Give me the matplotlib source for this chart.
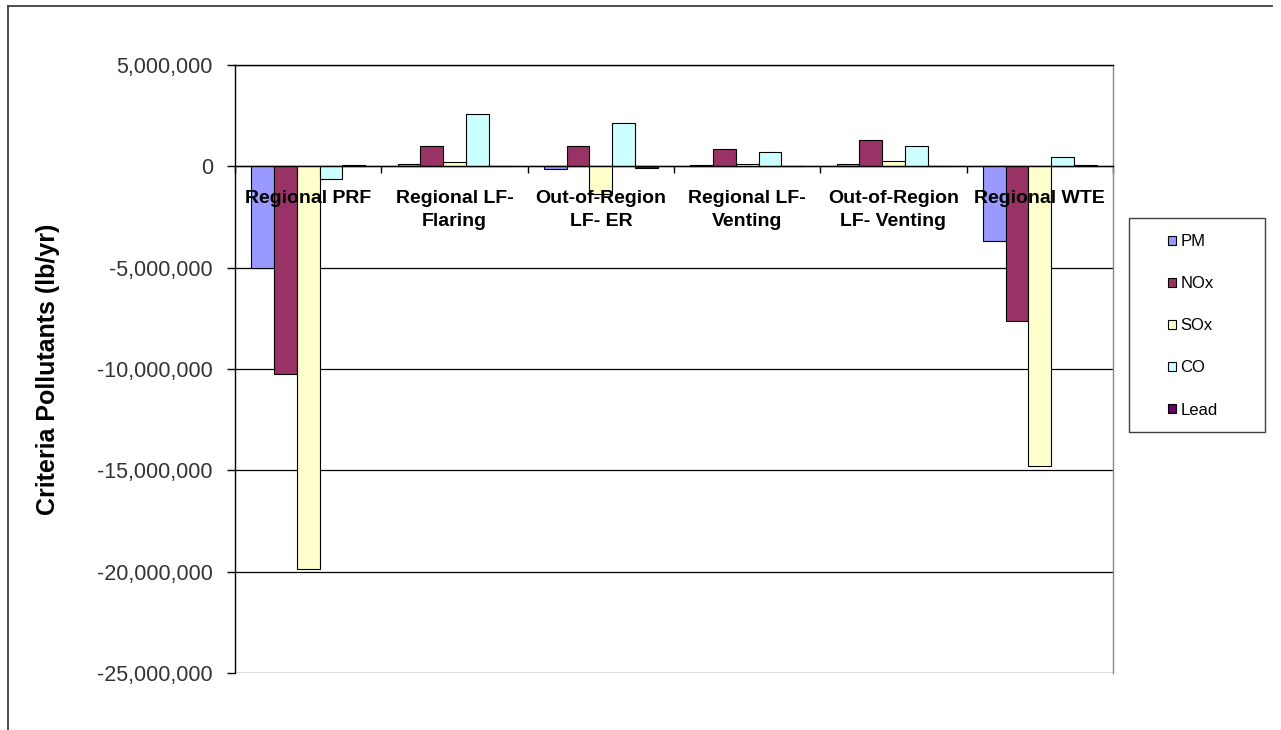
import matplotlib
matplotlib.use('Agg')
import matplotlib.pyplot as plt
import numpy as np
from matplotlib.patches import Patch, Rectangle
from matplotlib.lines import Line2D
from matplotlib.ticker import FuncFormatter

plt.rcParams['font.family'] = ['Liberation Sans', 'DejaVu Sans']

categories = ['Regional PRF', 'Regional LF-\nFlaring', 'Out-of-Region\nLF- ER',
              'Regional LF-\nVenting', 'Out-of-Region\nLF- Venting', 'Regional WTE']
series = ['PM', 'NOx', 'SOx', 'CO', 'Lead']
pm = [-5.0e6, 0.13e6, -0.15e6, 0.05e6, 0.13e6, -3.7e6]
nox = [-10.25e6, 1.0e6, 1.0e6, 0.87e6, 1.31e6, -7.65e6]
sox = [-19.85e6, 0.2e6, -1.35e6, 0.13e6, 0.25e6, -14.77e6]
co = [-0.64e6, 2.6e6, 2.15e6, 0.69e6, 1.0e6, 0.48e6]
lead = [0.06e6, 0.02e6, -0.08e6, 0.02e6, 0.02e6, 0.05e6]
colors = ['#9999FF', '#993366', '#FFFFCC', '#CCFFFF', '#660066']
yticks = [5e6, 0, -5e6, -10e6, -15e6, -20e6, -25e6]

W, H = 1281, 730
fig = plt.figure(figsize=(W / 100, H / 100), dpi=100)
ax = fig.add_axes([235 / W, 1 - 673 / H, 878 / W, 608 / H])

x = np.arange(len(categories))
bw = 0.155
for j, (vals, c, name) in enumerate(zip([pm, nox, sox, co, lead], colors, series)):
    ax.bar(x + (j - 2) * bw, vals, bw, color=c, edgecolor='black', linewidth=0.8,
           label=name, zorder=1)

ax.set_xlim(-0.5, len(categories) - 0.5)
ax.set_ylim(-25e6, 5e6)
ax.set_yticks(yticks)
ax.yaxis.set_major_formatter(FuncFormatter(lambda v, p: f'{int(v):,}'))
ax.tick_params(axis='y', length=6, width=1, direction='out', pad=10,
               labelsize=15.5, labelcolor='#333333')
for t in yticks:
    ax.axhline(t, color='black', lw=0.9, zorder=0.5)

# category ticks at boundaries; labels drawn as text so they sit over the bars
ax.set_xticks(np.arange(len(categories) + 1) - 0.5)
ax.set_xticklabels([])
ax.tick_params(axis='x', length=5, width=1, direction='out')
for i, cat in enumerate(categories):
    ax.annotate(cat, xy=(i, 0), xycoords='data', xytext=(0, -17),
                textcoords='offset points', ha='center', va='top',
                fontsize=14, fontweight='bold', linespacing=1.45, zorder=5)

ax.spines['bottom'].set_position(('data', 0))
ax.spines['bottom'].set_color('black')
ax.spines['left'].set_color('black')
ax.spines['top'].set_color('black')
ax.spines['right'].set_color('#888888')
for s in ax.spines.values():
    s.set_linewidth(1)

ax.set_ylabel('Criteria Pollutants (lb/yr)', fontsize=18, fontweight='bold')
ax.yaxis.set_label_coords(-0.199, 0.5)

# legend
fig.add_artist(Rectangle((1129 / W, 1 - 432 / H), 136 / W, 214 / H,
                         transform=fig.transFigure, fill=False,
                         edgecolor='#404040', linewidth=1))
handles = [Patch(facecolor=c, edgecolor='black', linewidth=0.8) for c in colors]
fig.legend(handles, series, loc='upper left',
           bbox_to_anchor=(1168 / W, 1 - 234 / H), bbox_transform=fig.transFigure,
           frameon=False, fontsize=12, handlelength=0.45, handleheight=0.45,
           handletextpad=0.3, labelspacing=1.63, borderpad=0, borderaxespad=0)

# outer chart border
fig.add_artist(Line2D([7.5 / W, 7.5 / W], [0, 1 - 6 / H], transform=fig.transFigure,
                      color='#404040', lw=1.3))
fig.add_artist(Line2D([7.5 / W, 1272 / W], [1 - 6 / H, 1 - 6 / H],
                      transform=fig.transFigure, color='#404040', lw=1.3))

fig.savefig('out.png', dpi=100)
